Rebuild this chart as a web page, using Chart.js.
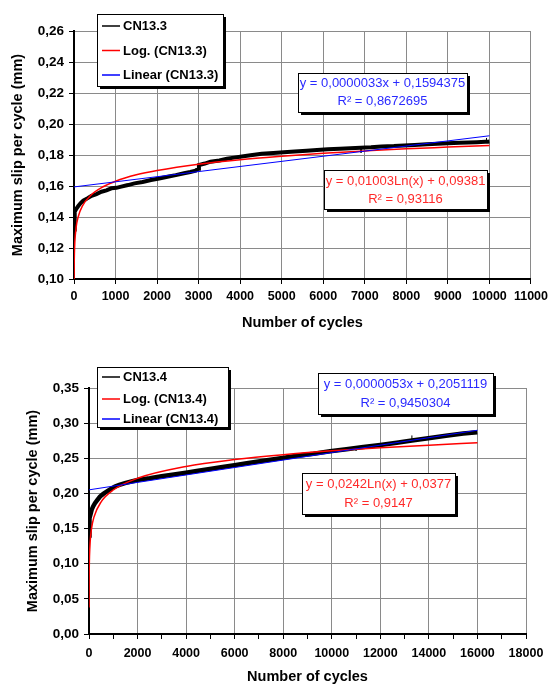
<!DOCTYPE html>
<html>
<head>
<meta charset="utf-8">
<script src="https://cdn.jsdelivr.net/npm/chart.js@4.4.1/dist/chart.umd.min.js"></script>
<style>
  body { margin: 0; background: #fff; }
  canvas { position: absolute; left: 0; }
  #chartTop { top: 0; }
  #chartBottom { top: 343px; }
</style>
</head>
<body>
<canvas id="chartTop" width="553" height="343"></canvas>
<canvas id="chartBottom" width="553" height="343"></canvas>
<script>
// ---- CN13.3 (top chart) ----
const cn133X = [0, 10, 24, 60, 103, 160, 222, 320, 422, 540, 661, 780, 900, 1020, 1138, 1300, 1456, 1650, 1854, 2050,
  2251, 2450, 2649, 2800, 2928, 2990, 3007, 3150, 3286, 3500, 3683, 3850, 4041, 4250, 4518, 4800, 5050, 5314, 5600, 5850,
  6110, 6400, 6650, 6900, 7150, 7400, 7701, 7950, 8200, 8496, 8750, 9000, 9291, 9500, 9700, 9900, 9968, 10000];
const cn133Y = [0.132, 0.139, 0.1434, 0.1455, 0.1471, 0.1490, 0.1505, 0.1520, 0.1537, 0.1548, 0.1563, 0.1572, 0.1585, 0.1588, 0.1596, 0.1606, 0.1617, 0.1626, 0.1639, 0.1648,
  0.1660, 0.1670, 0.1682, 0.1690, 0.1699, 0.1712, 0.1735, 0.1745, 0.1757, 0.1765, 0.1776, 0.1783, 0.1790, 0.1798, 0.1808, 0.1813, 0.1818, 0.1823, 0.1828, 0.1832,
  0.1837, 0.1840, 0.1843, 0.1847, 0.1850, 0.1855, 0.1858, 0.1862, 0.1865, 0.1869, 0.1872, 0.1876, 0.1879, 0.1881, 0.1883, 0.1885, 0.1886, 0.1887];
// single noise spikes on the measured curve (drawn thin)
const spike133X = [6910, 6910, null, 9930, 9930];
const spike133Y = [0.1847, 0.1815, null, 0.1885, 0.1910];
const log133X = [1, 2, 5, 10, 20, 50, 100, 200, 400, 700, 1000, 1500, 2000, 3000, 4000, 5000, 6000, 7000, 8000, 9000, 10000];
const log133Y = [0.0938, 0.1008, 0.1100, 0.1169, 0.1239, 0.1331, 0.1400, 0.1470, 0.1539, 0.1595, 0.1631, 0.1672, 0.1700, 0.1741, 0.1770, 0.1792, 0.1811, 0.1826, 0.1840, 0.1851, 0.1862];
const lin133X = [0, 10000];
const lin133Y = [0.1594, 0.1924];

// ---- CN13.4 (bottom chart) ----
const cn134X = [0, 5, 15, 41, 70, 108, 170, 246, 340, 453, 590, 727, 900, 1070, 1250, 1481, 1750, 2000, 2500, 2988,
  3500, 3992, 4500, 5045, 5500, 5992, 6500, 7185, 7900, 8560, 9250, 9930, 10600, 11300, 12000, 12675, 13300,
  14045, 14700, 15416, 15990];
const cn134Y = [0.140, 0.152, 0.158, 0.1648, 0.171, 0.1766, 0.1815, 0.1861, 0.1905, 0.1956, 0.1993, 0.2027, 0.2065, 0.2098, 0.2120, 0.2147, 0.2170, 0.2190, 0.2215, 0.2245,
  0.2270, 0.2295, 0.2322, 0.2350, 0.2375, 0.2400, 0.2428, 0.2464, 0.2500, 0.2535, 0.2565, 0.2600, 0.2630, 0.2660, 0.2690, 0.2722, 0.2752,
  0.2790, 0.2822, 0.2852, 0.2872];
const spike134X = [13300, 13300, null, 11000, 11000];
const spike134Y = [0.2752, 0.2825, null, 0.2645, 0.2610];
const log134X = [1, 2, 5, 10, 20, 50, 100, 200, 500, 1000, 2000, 4000, 6000, 8000, 10000, 12000, 14000, 16000];
const log134Y = [0.0377, 0.0545, 0.0766, 0.0934, 0.1102, 0.1324, 0.1491, 0.1659, 0.1881, 0.2049, 0.2216, 0.2384, 0.2482, 0.2552, 0.2606, 0.2650, 0.2687, 0.2720];
const lin134X = [0, 16000];
const lin134Y = [0.2051, 0.2899];

const topXTicks = { min: 0, max: 11000, step: 1000 };
const topYTicks = { min: 0.10, max: 0.26, step: 0.02 };
const botXTicks = { min: 0, max: 18000, step: 1000, labelStep: 2000 };
const botYTicks = { min: 0, max: 0.35, step: 0.05 };

const FONT = '"Liberation Sans", Arial, sans-serif';
const RED = '#ff0000';
const BLUE = '#0000ff';
const GRID = '#8a8a8a';

function pts(xs, ys) {
  return xs.map((x, i) => (x === null ? { x: null, y: null } : { x: x, y: ys[i] }));
}

function comma(v) {
  return v.toFixed(2).replace('.', ',');
}

function drawBox(ctx, x1, y1, x2, y2) {
  const w = x2 - x1, h = y2 - y1;
  ctx.fillStyle = '#000';
  ctx.fillRect(x1 + 3, y1 + 3, w, h);
  ctx.fillStyle = '#fff';
  ctx.fillRect(x1, y1, w, h);
  ctx.strokeStyle = '#000';
  ctx.lineWidth = 1;
  ctx.strokeRect(x1 + 0.5, y1 + 0.5, w, h);
}

// legend + trend line equations drawn on top of the plot
function overlay(opt) {
  return {
    id: 'overlay',
    afterDraw(chart) {
      const ctx = chart.ctx;
      ctx.save();
      const L = opt.legend;
      drawBox(ctx, L.box[0], L.box[1], L.box[2], L.box[3]);
      ctx.font = 'bold 13px ' + FONT;
      ctx.textBaseline = 'middle';
      ctx.textAlign = 'left';
      chart.data.datasets.slice(0, 3).forEach((ds, i) => {
        const y = L.rows[i];
        ctx.strokeStyle = ds.borderColor;
        ctx.lineWidth = 1.5;
        ctx.beginPath();
        ctx.moveTo(102, y);
        ctx.lineTo(120, y);
        ctx.stroke();
        ctx.fillStyle = '#000';
        ctx.fillText(ds.label, 123, y + 0.5);
      });
      opt.eqs.forEach(e => {
        drawBox(ctx, e.box[0], e.box[1], e.box[2], e.box[3]);
        ctx.font = '13px ' + FONT;
        ctx.textAlign = 'center';
        ctx.fillStyle = e.color;
        const cx = (e.box[0] + e.box[2]) / 2;
        ctx.fillText(e.lines[0], cx, e.rows[0]);
        ctx.fillText(e.lines[1], cx, e.rows[1]);
      });
      ctx.restore();
    }
  };
}

function makeChart(id, cfg) {
  return new Chart(document.getElementById(id), {
    type: 'line',
    data: {
      datasets: [
        { label: cfg.names[0], data: pts(cfg.data[0], cfg.data[1]), borderColor: '#000', borderWidth: cfg.blackWidth, pointRadius: 0, tension: 0, order: 3 },
        { label: cfg.names[1], data: pts(cfg.data[2], cfg.data[3]), borderColor: RED, borderWidth: 1.5, pointRadius: 0, cubicInterpolationMode: 'monotone', order: 2 },
        { label: cfg.names[2], data: pts(cfg.data[4], cfg.data[5]), borderColor: BLUE, borderWidth: 1, pointRadius: 0, tension: 0, order: 1 },
        { label: 'noise', data: pts(cfg.spikes[0], cfg.spikes[1]), borderColor: '#000', borderWidth: 1, pointRadius: 0, spanGaps: false, order: 4 }
      ]
    },
    options: {
      responsive: false,
      maintainAspectRatio: false,
      animation: false,
      layout: { padding: cfg.padding },
      plugins: { legend: { display: false }, tooltip: { enabled: false } },
      scales: {
        x: {
          type: 'linear',
          min: cfg.xt.min, max: cfg.xt.max,
          afterBuildTicks(scale) {
            const t = [];
            for (let v = cfg.xt.min; v <= cfg.xt.max; v += cfg.xt.step) t.push({ value: v });
            scale.ticks = t;
          },
          afterFit(scale) { scale.height = cfg.xHeight; },
          grid: {
            color: c => (cfg.xt.labelStep && c.tick && c.tick.value % cfg.xt.labelStep !== 0) ? 'rgba(0,0,0,0)' : GRID,
            tickColor: '#000',
            tickLength: 5,
            lineWidth: 1
          },
          border: { color: '#000', width: 2 },
          ticks: {
            autoSkip: false, maxRotation: 0, padding: cfg.xPad,
            color: '#000', font: { family: FONT, size: 12.5, weight: 'bold' },
            callback: v => (cfg.xt.labelStep && v % cfg.xt.labelStep !== 0) ? '' : String(v)
          },
          title: {
            display: true, text: 'Number of cycles', color: '#000',
            font: { family: FONT, size: 14.5, weight: 'bold' },
            padding: { top: 0, bottom: cfg.xTitlePad }
          }
        },
        y: {
          min: cfg.yt.min, max: cfg.yt.max,
          afterBuildTicks(scale) {
            const t = [];
            for (let v = cfg.yt.min; v <= cfg.yt.max + 1e-9; v += cfg.yt.step) t.push({ value: Math.round(v * 100) / 100 });
            scale.ticks = t;
          },
          afterFit(scale) { scale.width = cfg.yWidth; },
          grid: { color: GRID, tickColor: '#000', tickLength: 5, lineWidth: 1 },
          border: { color: '#000', width: 2 },
          ticks: {
            padding: 5, color: '#000',
            font: { family: FONT, size: 13.5, weight: 'bold' },
            callback: v => comma(v)
          },
          title: {
            display: true, text: 'Maximum slip per cycle (mm)', color: '#000',
            font: { family: FONT, size: 14.5, weight: 'bold' },
            padding: { top: 0, bottom: 0 }
          }
        }
      }
    },
    plugins: [overlay(cfg.overlay)]
  });
}

makeChart('chartTop', {
  names: ['CN13.3', 'Log. (CN13.3)', 'Linear (CN13.3)'],
  data: [cn133X, cn133Y, log133X, log133Y, lin133X, lin133Y],
  spikes: [spike133X, spike133Y],
  blackWidth: 4,
  xt: topXTicks, yt: topYTicks,
  padding: { top: 31, right: 18, left: 9, bottom: 0 },
  yWidth: 65, xHeight: 64, xPad: 5, xTitlePad: 11,
  overlay: {
    legend: { box: [97, 14, 223, 86], rows: [26, 50.5, 75] },
    eqs: [
      { box: [298, 73, 467, 112], color: '#2a2aff', lines: ['y = 0,0000033x + 0,1594375', 'R² = 0,8672695'], rows: [83, 101] },
      { box: [324, 170, 487, 209], color: '#ff2a2a', lines: ['y = 0,01003Ln(x) + 0,09381', 'R² = 0,93116'], rows: [181, 199] }
    ]
  }
});

makeChart('chartBottom', {
  names: ['CN13.4', 'Log. (CN13.4)', 'Linear (CN13.4)'],
  data: [cn134X, cn134Y, log134X, log134Y, lin134X, lin134Y],
  spikes: [spike134X, spike134Y],
  blackWidth: 4.5,
  xt: botXTicks, yt: botYTicks,
  padding: { top: 45, right: 27, left: 24, bottom: 0 },
  yWidth: 65, xHeight: 52, xPad: 7, xTitlePad: 0,
  overlay: {
    legend: { box: [97, 24, 228, 84], rows: [34, 56, 76] },
    eqs: [
      { box: [318, 30, 493, 71], color: '#2a2aff', lines: ['y = 0,0000053x + 0,2051119', 'R² = 0,9450304'], rows: [41.5, 60] },
      { box: [302, 130, 455, 171], color: '#ff2a2a', lines: ['y = 0,0242Ln(x) + 0,0377', 'R² = 0,9147'], rows: [141, 160] }
    ]
  }
});
</script>
</body>
</html>
